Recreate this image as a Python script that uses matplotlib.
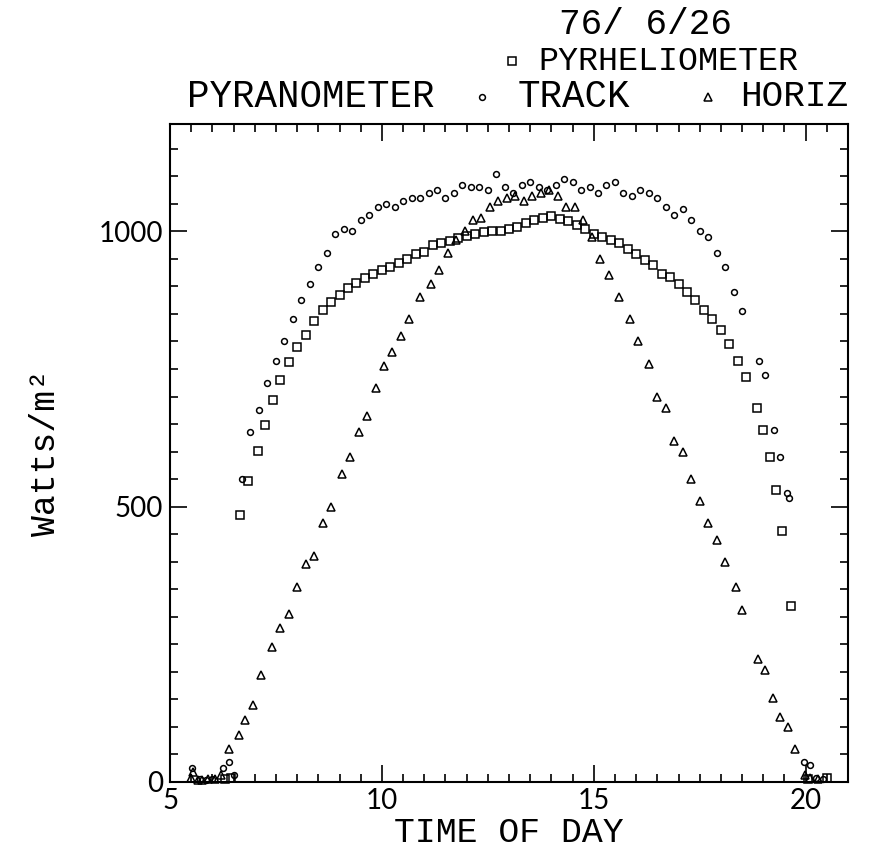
import numpy as np
import matplotlib
matplotlib.use("Agg")
import matplotlib.pyplot as plt
from matplotlib.ticker import MultipleLocator

# pyrheliometer (squares)
pyr_t = [6.3, 6.45, 6.66, 6.85, 7.07, 7.23, 7.42, 7.6, 7.8, 8.0, 8.2, 8.4, 8.6, 8.8, 9.0,
         9.2, 9.4, 9.6, 9.8, 10.0, 10.2, 10.4, 10.6, 10.8, 11.0, 11.2, 11.4, 11.6, 11.8,
         12.0, 12.2, 12.4, 12.6, 12.8, 13.0, 13.2, 13.4, 13.6, 13.8, 14.0, 14.2, 14.4,
         14.6, 14.8, 15.0, 15.2, 15.4, 15.6, 15.8, 16.0, 16.2, 16.4, 16.6, 16.8, 17.0,
         17.2, 17.4, 17.6, 17.8, 18.0, 18.2, 18.4, 18.6, 18.85, 19.0, 19.15, 19.3, 19.45,
         19.65, 20.05, 20.5]
pyr_v = [5, 8, 484, 547, 602, 649, 693, 730, 762, 790, 812, 838, 858, 872, 885,
         897, 907, 915, 922, 929, 935, 942, 950, 958, 962, 975, 978, 983, 988,
         992, 995, 998, 1000, 1000, 1005, 1008, 1015, 1020, 1025, 1028, 1022, 1018,
         1012, 1005, 995, 990, 985, 978, 968, 958, 948, 938, 922, 918, 905,
         890, 875, 858, 840, 820, 795, 765, 735, 680, 640, 590, 530, 455,
         320, 6, 8]

# pyranometer on tracker (circles)
trk_t = [5.52, 5.7, 5.85, 6.0, 6.24, 6.4, 6.5, 6.71, 6.88, 7.09, 7.3, 7.5, 7.7, 7.9,
         8.1, 8.3, 8.5, 8.7, 8.9, 9.1, 9.3, 9.5, 9.7, 9.9, 10.1, 10.3, 10.5, 10.7, 10.9,
         11.1, 11.3, 11.5, 11.7, 11.9, 12.1, 12.3, 12.5, 12.7, 12.9, 13.1, 13.3, 13.5,
         13.7, 13.9, 14.1, 14.3, 14.5, 14.7, 14.9, 15.1, 15.3, 15.5, 15.7, 15.9, 16.1,
         16.3, 16.5, 16.7, 16.9, 17.1, 17.3, 17.5, 17.7, 17.9, 18.1, 18.3, 18.5, 18.9,
         19.05, 19.25, 19.4, 19.55, 19.6, 19.96, 20.1, 20.25, 20.4]
trk_v = [25, 5, 3, 6, 25, 36, 12, 551, 635, 675, 725, 765, 800, 840,
         875, 905, 935, 960, 995, 1005, 1000, 1020, 1030, 1045, 1050, 1045, 1055, 1060, 1060,
         1070, 1075, 1060, 1070, 1085, 1080, 1080, 1075, 1105, 1080, 1070, 1085, 1090,
         1080, 1075, 1085, 1095, 1090, 1075, 1080, 1070, 1085, 1090, 1070, 1065, 1075,
         1070, 1060, 1045, 1030, 1040, 1020, 1000, 990, 960, 935, 890, 855, 765,
         740, 640, 590, 525, 515, 37, 30, 8, 5]

# pyranometer horizontal (triangles)
hor_t = [5.5, 5.55, 5.65, 5.75, 5.9, 6.05, 6.2, 6.4, 6.62, 6.78, 6.95, 7.15, 7.4, 7.6,
         7.8, 8.0, 8.2, 8.4, 8.6, 8.8, 9.05, 9.25, 9.45, 9.65, 9.85, 10.05, 10.25, 10.45,
         10.65, 10.9, 11.15, 11.35, 11.55, 11.75, 11.95, 12.15, 12.35, 12.55, 12.75,
         12.95, 13.15, 13.35, 13.55, 13.75, 13.95, 14.15, 14.35, 14.55, 14.75, 14.95,
         15.15, 15.35, 15.6, 15.85, 16.05, 16.3, 16.5, 16.7, 16.9, 17.1, 17.3, 17.5,
         17.7, 17.9, 18.1, 18.35, 18.5, 18.87, 19.05, 19.23, 19.39, 19.58, 19.75, 19.98,
         20.1, 20.3]
hor_v = [8, 18, 4, 3, 5, 6, 12, 60, 85, 113, 140, 195, 245, 280,
         305, 355, 395, 410, 470, 500, 560, 590, 635, 665, 715, 755, 780, 810,
         840, 880, 905, 930, 960, 985, 1000, 1020, 1025, 1045, 1055,
         1060, 1065, 1055, 1065, 1070, 1075, 1065, 1045, 1045, 1020, 990,
         950, 920, 880, 840, 800, 760, 700, 680, 620, 600, 550, 510,
         470, 440, 400, 355, 313, 224, 204, 153, 118, 100, 59, 12,
         8, 5]

x_ticks = [5, 10, 15, 20]
y_ticks = [0, 500, 1000]

mono = ["Liberation Mono", "DejaVu Sans Mono"]
sans = ["Lato", "DejaVu Sans"]

fig = plt.figure(figsize=(8.71, 8.55), dpi=100)
ax = fig.add_axes([0.1952, 0.0854, 0.7784, 0.7696])

mk = dict(linestyle="none", markerfacecolor="none", markeredgecolor="black",
          markeredgewidth=1.1)
ax.plot(pyr_t, pyr_v, marker="s", markersize=5.2, clip_on=False, **mk)
ax.plot(trk_t, trk_v, marker="o", markersize=4.2, clip_on=False, **mk)
ax.plot(hor_t, hor_v, marker="^", markersize=5.2, clip_on=False, **mk)

ax.set_xlim(5, 21)
ax.set_ylim(0, 1195)
ax.set_xticks(x_ticks)
ax.set_yticks(y_ticks)
ax.xaxis.set_minor_locator(MultipleLocator(0.5))
ax.yaxis.set_minor_locator(MultipleLocator(50))
ax.tick_params(which="both", direction="in", top=True, right=True, width=1.2)
ax.tick_params(which="major", length=12)
ax.tick_params(which="minor", length=6)
ax.tick_params(axis="x", which="major", pad=4)
ax.tick_params(axis="y", which="major", pad=5)
for lab in ax.get_xticklabels() + ax.get_yticklabels():
    lab.set_family(sans)
    lab.set_fontsize(20)
for s in ax.spines.values():
    s.set_linewidth(1.5)

ax.set_xlabel("TIME OF DAY", family=mono, fontsize=25, labelpad=2)
ax.set_ylabel("Watts/m²", family=mono, fontsize=25, labelpad=26)

fig.text(645 / 871, 1 - 25 / 855, "76/ 6/26", family=mono, fontsize=26,
         ha="center", va="center")
fig.text(538 / 871, 1 - 61 / 855, "PYRHELIOMETER", family=mono, fontsize=24,
         ha="left", va="center")
fig.text(187 / 871, 1 - 97 / 855, "PYRANOMETER", family=mono, fontsize=27,
         ha="left", va="center")
fig.text(518 / 871, 1 - 97 / 855, "TRACK", family=mono, fontsize=27,
         ha="left", va="center")
fig.text(740 / 871, 1 - 97 / 855, "HORIZ", family=mono, fontsize=26,
         ha="left", va="center")
# legend symbols in the title lines
for x, y, m, s in [(512, 61, "s", 5.2), (482, 97, "o", 4.2), (708, 97, "^", 5.2)]:
    fig.lines.append(plt.Line2D([x / 871], [1 - y / 855], marker=m, markersize=s,
                                transform=fig.transFigure, **mk))

fig.savefig("out.png", dpi=100)
